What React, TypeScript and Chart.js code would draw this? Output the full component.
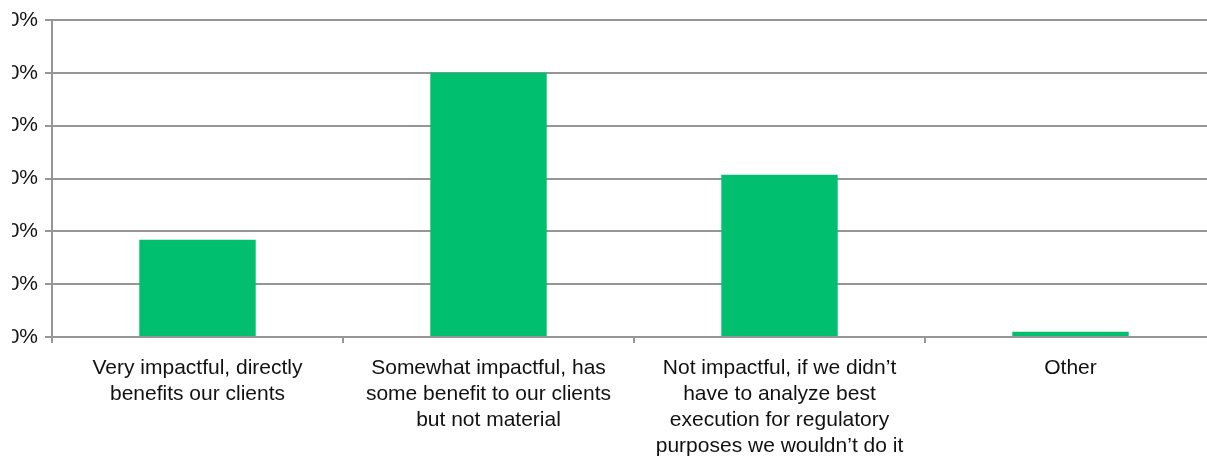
import React, { useEffect, useRef } from "react";
import { Chart, registerables } from "chart.js";

Chart.register(...registerables);

// Survey responses: share of respondents per answer (percent)
const categories: string[][] = [
  ["Very impactful, directly", "benefits our clients"],
  ["Somewhat impactful, has", "some benefit to our clients", "but not material"],
  [
    "Not impactful, if we didn\u2019t",
    "have to analyze best",
    "execution for regulatory",
    "purposes we wouldn\u2019t do it",
  ],
  ["Other"],
];
const shares: number[] = [18.4, 50.0, 30.7, 1.0];
const axisMax = 60;
const axisStep = 10;

const GREEN = "#00BF6F";
const GRID = "#969696";

export default function App() {
  const ref = useRef<HTMLCanvasElement | null>(null);

  useEffect(() => {
    if (!ref.current) return;
    const chart = new Chart(ref.current, {
      type: "bar",
      data: {
        labels: categories,
        datasets: [
          {
            data: shares,
            backgroundColor: GREEN,
            borderWidth: 0,
            categoryPercentage: 1,
            barPercentage: 0.4,
          },
        ],
      },
      options: {
        responsive: false,
        animation: false,
        layout: { padding: { top: 20, right: 14, left: 0, bottom: 0 } },
        plugins: {
          legend: { display: false },
          tooltip: { enabled: false },
        },
        scales: {
          x: {
            grid: {
              display: true,
              drawOnChartArea: false,
              drawTicks: true,
              tickLength: 6,
              color: GRID,
              lineWidth: 2,
              offset: true,
            },
            border: { display: true, color: GRID, width: 2 },
            ticks: {
              color: "#111",
              padding: 12,
              maxRotation: 0,
              autoSkip: false,
              font: { family: "'Liberation Sans', Arial, sans-serif", size: 21, lineHeight: 1.238 },
            },
            afterFit: (scale: any) => {
              scale.height = 123;
            },
          },
          y: {
            min: 0,
            max: axisMax,
            grid: {
              color: GRID,
              lineWidth: 2,
              tickLength: 7,
            },
            border: { display: true, color: GRID, width: 2 },
            ticks: {
              stepSize: axisStep,
              padding: 7,
              color: "#111",
              font: { family: "'Liberation Sans', Arial, sans-serif", size: 21 },
              callback: (v: any) => `${v}%`,
            },
            afterFit: (scale: any) => {
              scale.width = 52;
            },
          },
        },
      },
    });
    return () => chart.destroy();
  }, []);

  return (
    <div
      style={{
        position: "fixed",
        left: 12,
        top: 0,
        width: 1195,
        height: 460,
        overflow: "hidden",
        background: "#fff",
      }}
    >
      <canvas
        ref={ref}
        width={1230}
        height={460}
        style={{ position: "absolute", left: -12, top: 0, width: 1230, height: 460 }}
      />
    </div>
  );
}
